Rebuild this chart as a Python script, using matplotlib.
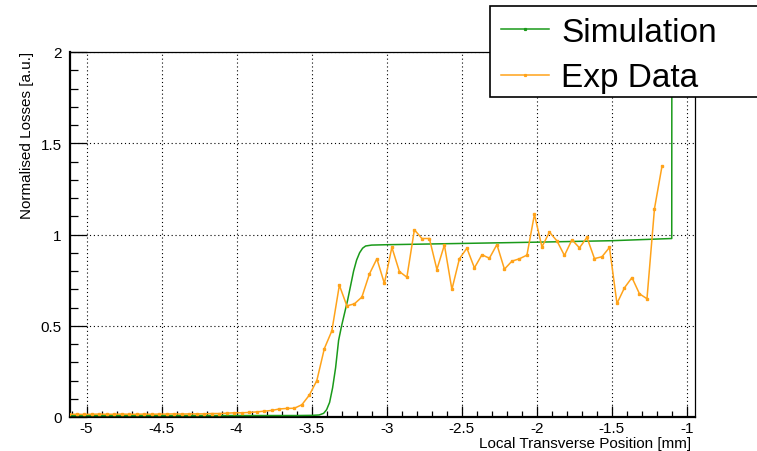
import matplotlib
matplotlib.use('Agg')
import matplotlib.pyplot as plt
from matplotlib.ticker import MultipleLocator, FuncFormatter
from matplotlib.lines import Line2D
from matplotlib.patches import Rectangle

plt.rcParams['font.family'] = ['Liberation Sans', 'DejaVu Sans']

# simulation curve
sim_x = [-5.11, -4.5, -4.0, -3.6, -3.5, -3.45, -3.42, -3.40, -3.38, -3.36, -3.34,
         -3.32, -3.30, -3.28, -3.26, -3.24, -3.22, -3.20, -3.18, -3.16, -3.14,
         -3.10, -3.0, -2.5, -2.0, -1.5, -1.10, -1.099]
sim_y = [0.008, 0.008, 0.008, 0.008, 0.009, 0.011, 0.02, 0.04, 0.08, 0.16, 0.27,
         0.42, 0.50, 0.57, 0.64, 0.72, 0.80, 0.86, 0.90, 0.925, 0.937,
         0.942, 0.944, 0.951, 0.958, 0.966, 0.978, 2.3]

# experimental data, one point every 0.05 mm
exp_x = [-5.115, -5.065, -5.015, -4.965, -4.915, -4.865, -4.815, -4.765, -4.715, -4.665,
         -4.615, -4.565, -4.515, -4.465, -4.415, -4.365, -4.315, -4.265, -4.215, -4.165,
         -4.115, -4.065, -4.015, -3.965, -3.915, -3.865, -3.815, -3.765, -3.715, -3.665,
         -3.615, -3.565, -3.515, -3.465, -3.415, -3.365, -3.315, -3.265, -3.215, -3.165,
         -3.115, -3.065, -3.015, -2.965, -2.915, -2.865, -2.815, -2.765, -2.715, -2.665,
         -2.615, -2.565, -2.515, -2.465, -2.415, -2.365, -2.315, -2.265, -2.215, -2.165,
         -2.115, -2.065, -2.015, -1.965, -1.915, -1.865, -1.815, -1.765, -1.715, -1.665,
         -1.615, -1.565, -1.515, -1.465, -1.415, -1.365, -1.315, -1.265, -1.215, -1.165]
exp_y = [0.015, 0.015, 0.014, 0.015, 0.016, 0.015, 0.015, 0.016, 0.015, 0.015,
         0.016, 0.015, 0.016, 0.016, 0.017, 0.016, 0.017, 0.017, 0.017, 0.019,
         0.019, 0.021, 0.023, 0.023, 0.025, 0.028, 0.032, 0.036, 0.044, 0.047,
         0.048, 0.067, 0.12, 0.20, 0.375, 0.472, 0.722, 0.609, 0.62, 0.657,
         0.783, 0.867, 0.732, 0.93, 0.797, 0.766, 1.026, 0.978, 0.978, 0.808,
         0.943, 0.699, 0.867, 0.925, 0.817, 0.889, 0.870, 0.945, 0.81, 0.854,
         0.867, 0.887, 1.11, 0.932, 1.013, 0.965, 0.885, 0.971, 0.927, 0.984,
         0.868, 0.878, 0.929, 0.622, 0.708, 0.764, 0.675, 0.648, 1.142, 1.374]

green = '#1a9a1a'
orange = '#ffa31a'
W, H = 757, 452

fig = plt.figure(figsize=(W / 100, H / 100), dpi=100)
ax = fig.add_axes([70 / W, 1 - 418 / H, (695 - 70) / W, (418 - 53) / H])

ax.plot(sim_x, sim_y, color=green, lw=1.1, zorder=3)
ax.plot(exp_x, exp_y, color=orange, lw=1.1, marker='s', ms=1.6, zorder=4)

ax.set_xlim(-5.11, -0.945)
ax.set_ylim(0, 2)

ax.xaxis.set_major_locator(MultipleLocator(0.5))
ax.xaxis.set_minor_locator(MultipleLocator(0.1))
ax.yaxis.set_major_locator(MultipleLocator(0.5))
ax.yaxis.set_minor_locator(MultipleLocator(0.1))
fmt = FuncFormatter(lambda v, p: '%g' % round(v, 2))
ax.xaxis.set_major_formatter(fmt)
ax.yaxis.set_major_formatter(fmt)

ax.grid(True, which='major', color='black', linestyle=(0, (1, 2.5)), lw=0.8)
ax.set_axisbelow(False)

ax.tick_params(which='both', direction='in', top=False, right=False, labelsize=11, width=0.9)
ax.tick_params(axis='y', which='major', length=12, pad=6)
ax.tick_params(axis='y', which='minor', length=6)
ax.tick_params(axis='x', which='major', length=8, pad=3)
ax.tick_params(axis='x', which='minor', length=4)

for s in ['left', 'bottom']:
    ax.spines[s].set_linewidth(1.6)
for s in ['top', 'right']:
    ax.spines[s].set_linewidth(0.9)

fig.text(27 / W, 1 - 52 / H, 'Normalised Losses [a.u.]', rotation=90,
         ha='center', va='top', fontsize=11)
fig.text(691 / W, 1 - 448.5 / H, 'Local Transverse Position [mm]',
         ha='right', va='baseline', fontsize=11)

# legend box, ROOT style
fig.add_artist(Rectangle((490 / W, 1 - 98 / H), 0.4, 91 / H, transform=fig.transFigure,
                         facecolor='white', edgecolor='black', lw=1.2, zorder=5))
for yy, col, lab in [(30, green, 'Simulation'), (75.5, orange, 'Exp Data')]:
    fig.add_artist(Line2D([501 / W, 549 / W], [1 - yy / H, 1 - yy / H],
                          transform=fig.transFigure, color=col, lw=1.1, zorder=6))
    fig.add_artist(Line2D([525 / W], [1 - yy / H], transform=fig.transFigure,
                          color=col, marker='s', ms=1.3, zorder=6))
    fig.text(561 / W, 1 - (yy + 11.5) / H, lab, fontsize=24, ha='left',
             va='baseline', zorder=7)

fig.savefig('out.png', dpi=100)
